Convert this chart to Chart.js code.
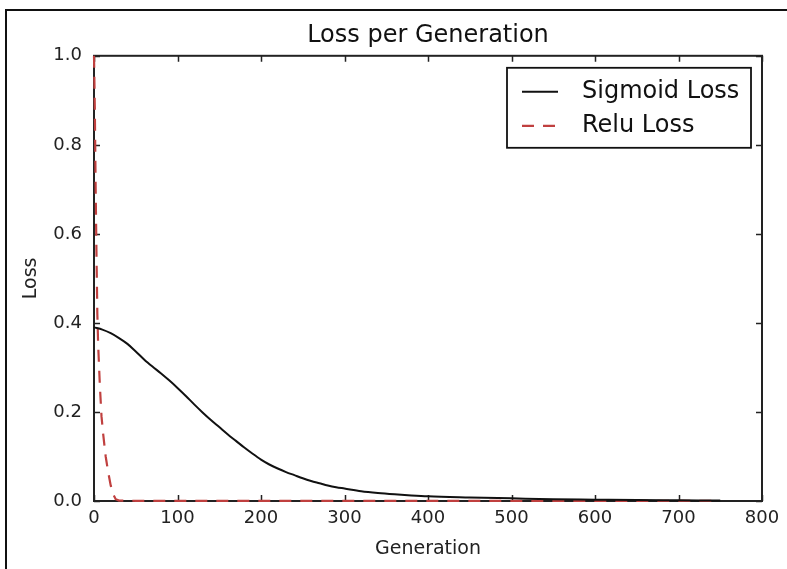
<!DOCTYPE html>
<html>
<head>
<meta charset="utf-8">
<script src="https://cdn.jsdelivr.net/npm/chart.js@4/dist/chart.umd.min.js"></script>
<style>
  html, body { margin: 0; padding: 0; background: #fff; }
  #wrap { position: relative; width: 787px; height: 569px; }
  canvas { display: block; }
</style>
</head>
<body>
<div id="wrap"><canvas id="c" width="787" height="569"></canvas></div>
<script>
// ---- data ----
const sigmoidGenerations = [0, 10, 20, 30, 40, 50, 60, 70, 80, 90, 100, 110, 120, 130, 140, 150, 160, 170, 180, 190, 200, 210, 220, 230, 240, 250, 260, 270, 280, 290, 300, 320, 340, 360, 380, 400, 450, 500, 550, 600, 650, 700, 750];
const sigmoidLoss = [0.390, 0.385, 0.377, 0.366, 0.353, 0.336, 0.318, 0.302, 0.287, 0.271, 0.254, 0.236, 0.217, 0.199, 0.182, 0.166, 0.150, 0.135, 0.120, 0.106, 0.093, 0.082, 0.073, 0.065, 0.058, 0.051, 0.045, 0.040, 0.035, 0.031, 0.028, 0.022, 0.018, 0.015, 0.0125, 0.0105, 0.008, 0.006, 0.004, 0.003, 0.002, 0.0015, 0.001];

const reluGenerations = [0, 1, 2, 3, 4, 5, 7, 9, 11, 14, 17, 20, 23, 26, 30, 50, 100, 200, 300, 400, 500, 600, 700, 750];
const reluLoss = [1.0, 0.88, 0.70, 0.55, 0.42, 0.35, 0.26, 0.19, 0.15, 0.10, 0.065, 0.035, 0.015, 0.004, 0.001, 0.0005, 0.0003, 0.0002, 0.0002, 0.0002, 0.0002, 0.0002, 0.0002, 0.0002];

const seriesNames = ['Sigmoid Loss', 'Relu Loss'];
const xTickValues = [0, 100, 200, 300, 400, 500, 600, 700, 800];
const yTickValues = [0.0, 0.2, 0.4, 0.6, 0.8, 1.0];
const yTickLabels = ['0.0', '0.2', '0.4', '0.6', '0.8', '1.0'];
const titleText = 'Loss per Generation';
const xTitle = 'Generation';
const yTitle = 'Loss';

const FONT = "'DejaVu Sans', 'Liberation Sans', sans-serif";

const framePlugin = {
  id: 'frame',
  beforeDraw(chart) {
    const ctx = chart.ctx;
    ctx.save();
    ctx.fillStyle = '#fff';
    ctx.fillRect(0, 0, chart.width, chart.height);
    // outer picture border (top and left)
    ctx.strokeStyle = '#111';
    ctx.lineWidth = 2;
    ctx.beginPath();
    ctx.moveTo(6, chart.height);
    ctx.lineTo(6, 10);
    ctx.lineTo(chart.width, 10);
    ctx.stroke();
    ctx.restore();
  },
  beforeDatasetsDraw(chart) {
    const ctx = chart.ctx;
    const a = chart.chartArea;
    const xs = chart.scales.x, ys = chart.scales.y;
    ctx.save();
    ctx.strokeStyle = '#222';
    ctx.lineWidth = 1.5;
    ctx.setLineDash([]);
    // inward ticks
    const tl = 6;
    ctx.beginPath();
    xTickValues.forEach(v => {
      const px = Math.round(xs.getPixelForValue(v)) + 0.5;
      ctx.moveTo(px, a.bottom); ctx.lineTo(px, a.bottom - tl);
      ctx.moveTo(px, a.top); ctx.lineTo(px, a.top + tl);
    });
    yTickValues.forEach(v => {
      const py = Math.round(ys.getPixelForValue(v)) + 0.5;
      ctx.moveTo(a.left, py); ctx.lineTo(a.left + tl, py);
      ctx.moveTo(a.right, py); ctx.lineTo(a.right - tl, py);
    });
    ctx.stroke();
    // axes frame
    ctx.lineWidth = 2;
    ctx.strokeRect(a.left, a.top, a.right - a.left, a.bottom - a.top);
    ctx.restore();
  },
  afterDatasetsDraw(chart) {
    const ctx = chart.ctx;
    const a = chart.chartArea;
    ctx.save();
    // legend box (upper right, inside the axes)
    const w = 244, h = 80;
    const lx = a.right - 11 - w, ly = a.top + 12;
    ctx.fillStyle = '#fff';
    ctx.fillRect(lx, ly, w, h);
    ctx.lineWidth = 1.8;
    ctx.strokeStyle = '#111';
    ctx.strokeRect(lx, ly, w, h);
    chart.data.datasets.forEach((ds, i) => {
      const yy = ly + 24 + i * 34;
      ctx.beginPath();
      ctx.strokeStyle = ds.borderColor;
      ctx.lineWidth = ds.borderWidth;
      ctx.setLineDash(ds.borderDash || []);
      ctx.moveTo(lx + 15, yy);
      ctx.lineTo(lx + 51, yy);
      ctx.stroke();
      ctx.setLineDash([]);
      ctx.fillStyle = '#111';
      ctx.font = '24px ' + FONT;
      ctx.textAlign = 'left';
      ctx.textBaseline = 'middle';
      ctx.fillText(ds.label, lx + 75, yy);
    });
    ctx.restore();
  }
};

const cfg = {
  type: 'line',
  data: {
    datasets: [
      {
        label: seriesNames[0],
        data: sigmoidGenerations.map((g, i) => ({ x: g, y: sigmoidLoss[i] })),
        borderColor: '#111',
        borderWidth: 2,
        pointRadius: 0,
        cubicInterpolationMode: 'monotone',
        clip: 4,
        fill: false
      },
      {
        label: seriesNames[1],
        data: reluGenerations.map((g, i) => ({ x: g, y: reluLoss[i] })),
        borderColor: '#c0403f',
        borderWidth: 2.2,
        borderDash: [12, 9],
        pointRadius: 0,
        tension: 0,
        clip: 4,
        fill: false
      }
    ]
  },
  options: {
    responsive: false,
    animation: false,
    devicePixelRatio: 1,
    layout: { padding: { left: 0, top: 0, right: 25, bottom: 0 } },
    plugins: {
      legend: { display: false },
      tooltip: { enabled: false },
      title: {
        display: true,
        text: titleText,
        fullSize: false,
        color: '#111',
        font: { family: FONT, size: 24, weight: 'normal' },
        padding: { top: 21, bottom: 6 }
      }
    },
    scales: {
      x: {
        type: 'linear',
        min: 0, max: 800,
        grid: { display: false, drawTicks: false },
        border: { display: false },
        afterBuildTicks: s => { s.ticks = xTickValues.map(v => ({ value: v })); },
        afterFit: s => { s.height = 68; },
        ticks: {
          autoSkip: false, maxRotation: 0, padding: 7,
          color: '#222',
          font: { family: FONT, size: 18 },
          callback: v => String(v)
        },
        title: {
          display: true, text: xTitle, color: '#222',
          font: { family: FONT, size: 19 },
          padding: { top: 0, bottom: 9 }
        }
      },
      y: {
        type: 'linear',
        min: 0, max: 1,
        grid: { display: false, drawTicks: false },
        border: { display: false },
        afterBuildTicks: s => { s.ticks = yTickValues.map(v => ({ value: v })); },
        afterFit: s => { s.width = 94; },
        ticks: {
          autoSkip: false, padding: 12,
          color: '#222',
          font: { family: FONT, size: 18 },
          callback: (v) => { const i = yTickValues.findIndex(t => Math.abs(t - v) < 1e-9); return i >= 0 ? yTickLabels[i] : ''; }
        },
        title: {
          display: true, text: yTitle, color: '#222',
          font: { family: FONT, size: 19 },
          padding: { top: 20, bottom: 0 }
        }
      }
    }
  },
  plugins: [framePlugin]
};

new Chart(document.getElementById('c'), cfg);
</script>
</body>
</html>
